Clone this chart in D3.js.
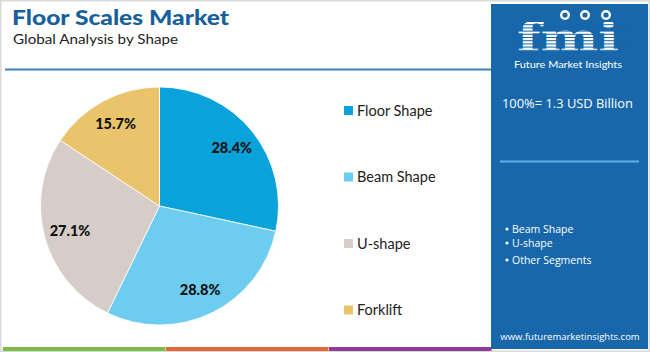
<!DOCTYPE html>
<html><head><meta charset="utf-8">
<script src="https://cdn.jsdelivr.net/npm/d3@7"></script>
<style>
html,body{margin:0;padding:0;background:#fff;}
svg{display:block;}
</style></head>
<body>
<svg id="chart" width="650" height="352"></svg>
<script>
const categories = ["Floor Shape", "Beam Shape", "U-shape", "Forklift"];
const values = [28.4, 28.8, 27.1, 15.7];
const colors = ["#0aa2da", "#6dcdf1", "#d6cdc8", "#eac46b"];
const title = "Floor Scales Market";
const subtitle = "Global Analysis by Shape";
const totalLabel = "100%= 1.3 USD Billion";
const bullets = ["Beam Shape", "U-shape", "Other Segments"];
const website = "www.futuremarketinsights.com";

const svg = d3.select("#chart");
const W = 650, H = 352;
const panelBlue = "#1767aa";

// outer border
svg.append("rect").attr("x", 0.75).attr("y", 0.75).attr("width", W - 1.5).attr("height", H - 1.5)
  .attr("fill", "#fff").attr("stroke", "#d9d9d9").attr("stroke-width", 1.5);

// Title
svg.append("text").attr("x", 12).attr("y", 25).text(title)
  .attr("font-family", "Lato, 'Open Sans', sans-serif").attr("font-weight", 900)
  .attr("font-size", 21).attr("fill", "#17609c").attr("textLength", 217).attr("lengthAdjust", "spacingAndGlyphs");
svg.append("text").attr("x", 13).attr("y", 44).text(subtitle)
  .attr("font-family", "Lato, 'Open Sans', sans-serif").attr("font-size", 14).attr("fill", "#222")
  .attr("textLength", 165).attr("lengthAdjust", "spacingAndGlyphs");

// header rule
svg.append("line").attr("x1", 5).attr("x2", 492).attr("y1", 69.5).attr("y2", 69.5)
  .attr("stroke", "#3d82ba").attr("stroke-width", 2);

// bottom stripes
const stripeColors = ["#7cbd4a", "#e46b39", "#8e3e96"];
const stripeX = d3.scaleLinear().domain([0, 3]).range([3, 492]);
stripeColors.forEach((c, i) => {
  svg.append("rect").attr("x", stripeX(i)).attr("y", 347).attr("width", stripeX(i + 1) - stripeX(i) - 0.5)
    .attr("height", 4).attr("fill", c);
});

// Right panel
svg.append("rect").attr("x", 491).attr("y", 4).attr("width", 157).attr("height", 345).attr("fill", panelBlue);

// logo "fmi"
const logo = svg.append("g");
logo.append("text").attr("x", 568).attr("y", 51).attr("text-anchor", "middle").text("fmi")
  .attr("font-family", "'DejaVu Serif', 'Liberation Serif', serif").attr("font-weight", "bold")
  .attr("font-size", 40).attr("fill", "#fff").attr("textLength", 102).attr("lengthAdjust", "spacingAndGlyphs");
for (let y = 21; y < 52; y += 3.2) {
  logo.append("rect").attr("x", 510).attr("y", y).attr("width", 120).attr("height", 1).attr("fill", panelBlue);
}
// small icons above
[[565, 15], [585, 15], [606, 15]].forEach(([cx, cy]) => {
  logo.append("circle").attr("cx", cx).attr("cy", cy).attr("r", 5).attr("fill", "#fff");
  logo.append("circle").attr("cx", cx).attr("cy", cy).attr("r", 2.6).attr("fill", panelBlue);
});
logo.append("text").attr("x", 568).attr("y", 68).attr("text-anchor", "middle").text("Future Market Insights")
  .attr("font-family", "Lato, 'Open Sans', sans-serif").attr("font-size", 8.5).attr("fill", "#fff")
  .attr("textLength", 108).attr("lengthAdjust", "spacingAndGlyphs");

svg.append("text").attr("x", 502).attr("y", 108).text(totalLabel)
  .attr("font-family", "'Open Sans', Lato, sans-serif").attr("font-size", 13).attr("fill", "#fff")
  .attr("textLength", 131).attr("lengthAdjust", "spacingAndGlyphs");

svg.append("line").attr("x1", 500).attr("x2", 639).attr("y1", 161.5).attr("y2", 161.5)
  .attr("stroke", "#5fb0e6").attr("stroke-width", 2);

const bulletYs = [229, 243, 260];
bullets.forEach((b, i) => {
  const y = bulletYs[i];
  svg.append("circle").attr("cx", 507).attr("cy", y).attr("r", 1.6).attr("fill", "#fff");
  svg.append("text").attr("x", 512).attr("y", y + 4).text(b)
    .attr("font-family", "'Open Sans', Lato, sans-serif").attr("font-size", 10.5).attr("fill", "#fff");
});

svg.append("text").attr("x", 570).attr("y", 340).attr("text-anchor", "middle").text(website)
  .attr("font-family", "'Open Sans', Lato, sans-serif").attr("font-size", 9.5).attr("fill", "#fff");

// Pie
const cx = 159.5, cy = 206, R = 119;
const pie = d3.pie().sort(null).value(d => d.v);
const data = pie(categories.map((c, i) => ({ c, v: values[i], col: colors[i] })));
const arc = d3.arc().innerRadius(0).outerRadius(R);
const labelArc = d3.arc().innerRadius(R * 0.78).outerRadius(R * 0.78);
const g = svg.append("g").attr("transform", `translate(${cx},${cy})`);
g.selectAll("path").data(data).join("path")
  .attr("d", arc).attr("fill", d => d.data.col).attr("stroke", "#fff").attr("stroke-width", 0.8);
g.selectAll("text").data(data).join("text")
  .attr("transform", d => `translate(${labelArc.centroid(d)})`)
  .attr("text-anchor", "middle").attr("dy", "0.35em")
  .attr("font-family", "Lato, 'Open Sans', sans-serif").attr("font-weight", 900).attr("font-size", 14.5)
  .attr("fill", "#111").text(d => d.data.v.toFixed(1) + "%");

// Legend
const legendY = d3.scalePoint().domain(categories).range([110.5, 310]);
const lg = svg.append("g");
categories.forEach((c, i) => {
  const y = legendY(c);
  lg.append("rect").attr("x", 344).attr("y", y - 4.5).attr("width", 9).attr("height", 9).attr("fill", colors[i]);
  lg.append("text").attr("x", 357).attr("y", y + 5).text(c)
    .attr("font-family", "Lato, 'Open Sans', sans-serif").attr("font-size", 14.5).attr("fill", "#222");
});
</script>
</body></html>
